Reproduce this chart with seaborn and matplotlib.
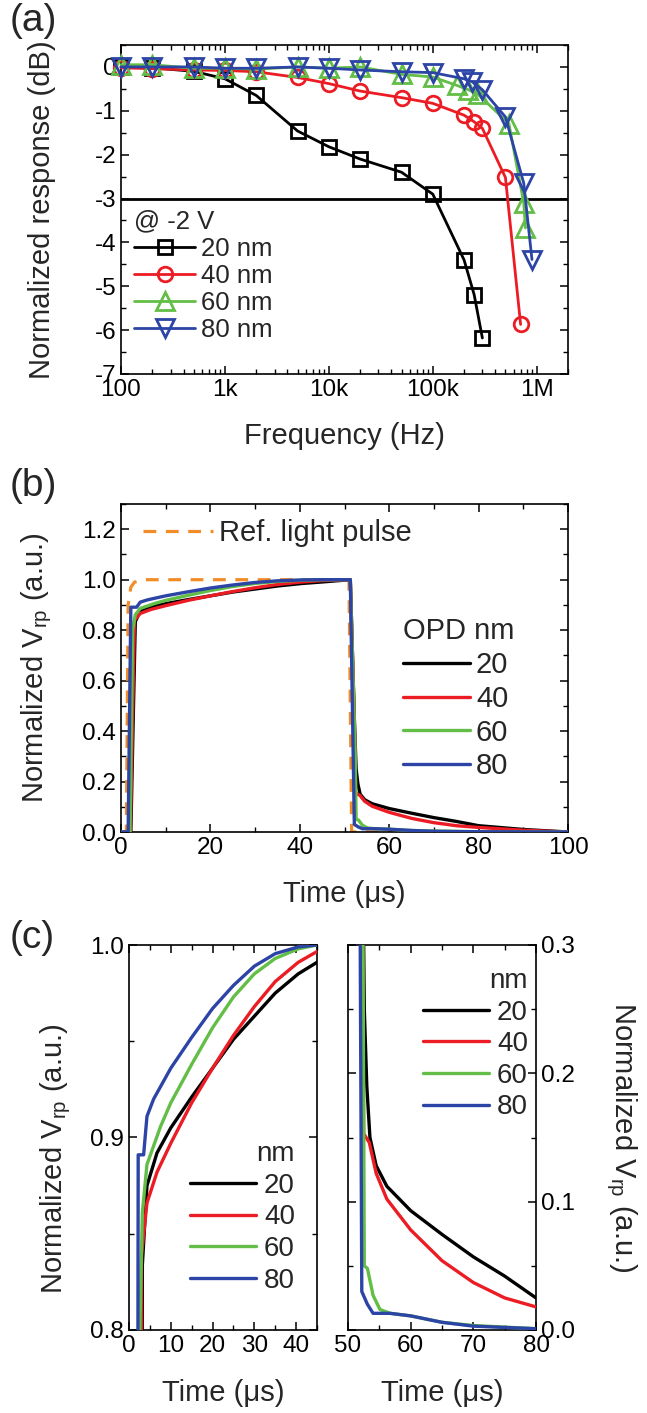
import numpy as np
import pandas as pd
import matplotlib
matplotlib.use("Agg")
import matplotlib.pyplot as plt
import seaborn as sns
from matplotlib.ticker import FixedLocator, MultipleLocator, LogLocator, NullFormatter
from matplotlib.lines import Line2D

# ---------------- data: panel (a) ----------------
freq_20 = [100, 200, 500, 1e3, 2e3, 5e3, 1e4, 2e4, 5e4, 1e5, 2e5, 2.5e5, 3e5]
resp_20 = [0.0, -0.02, -0.10, -0.27, -0.65, -1.46, -1.82, -2.10, -2.40, -2.90, -4.40, -5.19, -6.18]
freq_40 = [100, 200, 500, 1e3, 2e3, 5e3, 1e4, 2e4, 5e4, 1e5, 2e5, 2.5e5, 3e5, 5e5, 7e5]
resp_40 = [-0.02, -0.04, -0.07, -0.08, -0.11, -0.24, -0.38, -0.55, -0.70, -0.83, -1.10, -1.25, -1.40, -2.52, -5.87]
freq_60 = [100, 200, 500, 1e3, 2e3, 5e3, 1e4, 2e4, 5e4, 1e5, 1.7e5, 2.2e5, 2.7e5, 5.4e5, 7.5e5, 7.8e5]
resp_60 = [0.05, 0.05, -0.03, -0.03, -0.05, 0.0, -0.03, 0.0, -0.17, -0.23, -0.42, -0.52, -0.62, -1.29, -3.10, -3.67]
freq_80 = [100, 200, 500, 1e3, 2e3, 5e3, 1e4, 2e4, 5e4, 1e5, 2e5, 2.4e5, 3e5, 5e5, 7.5e5, 9e5]
resp_80 = [0.0, 0.0, 0.0, -0.03, -0.03, 0.0, -0.03, -0.07, -0.11, -0.13, -0.27, -0.34, -0.52, -1.14, -2.65, -4.39]
freq_ticks = [1e2, 1e3, 1e4, 1e5, 1e6]
freq_tick_labels = ["100", "1k", "10k", "100k", "1M"]

# ---------------- data: panels (b) and (c) ----------------
pulse_t = [0, 1.2, 1.6, 2.2, 3.0, 5.0, 51.0, 51.6, 100]
pulse_v = [0, 0, 0.90, 0.97, 0.99, 1.0, 1.0, 0.0, 0.0]

# rise part (0 .. 51.3 us)
rise_t_20 = [0, 2.2, 3.2, 4.3, 6.7, 10, 15, 20, 25, 30, 35, 40.5, 45, 51.3]
rise_v_20 = [0, 0, 0.834, 0.875, 0.892, 0.905, 0.921, 0.936, 0.951, 0.963, 0.975, 0.985, 0.991, 1.0]
rise_t_40 = [0, 2.1, 3.0, 4.3, 6.7, 10, 15, 20, 25, 30, 35, 40.5, 45, 51.3]
rise_v_40 = [0, 0, 0.839, 0.866, 0.882, 0.897, 0.918, 0.936, 0.953, 0.968, 0.981, 0.991, 0.9966, 1.0]
rise_t_60 = [0, 2.0, 2.6, 3.2, 4.3, 7.6, 10, 15, 20, 25, 30, 35, 40.5, 45, 51.3]
rise_v_60 = [0, 0, 0.80, 0.861, 0.886, 0.906, 0.918, 0.938, 0.957, 0.973, 0.985, 0.993, 0.998, 1.0, 1.0]
rise_t_80 = [0, 1.6, 2.2, 3.5, 4.3, 5.9, 10, 15, 20, 25, 30, 35, 40.5, 45, 51.3]
rise_v_80 = [0, 0, 0.891, 0.891, 0.911, 0.920, 0.936, 0.952, 0.967, 0.979, 0.989, 0.9955, 0.999, 1.0, 1.0]

# decay part (after 51.3 us)
decay_t_20 = [52.2, 52.6, 53.0, 53.5, 54.5, 56.2, 60, 65, 70, 75, 80, 90, 100]
decay_v_20 = [0.45, 0.25, 0.19, 0.15, 0.128, 0.112, 0.093, 0.0745, 0.057, 0.042, 0.025, 0.010, 0.0]
decay_t_40 = [52.2, 52.5, 53.4, 54.5, 56.2, 60, 65, 70, 75, 80, 90, 100]
decay_v_40 = [0.45, 0.153, 0.146, 0.122, 0.102, 0.078, 0.054, 0.037, 0.025, 0.018, 0.007, 0.0]
decay_t_60 = [52.4, 52.6, 53.1, 54.0, 55.1, 56.7, 60, 65, 70, 80, 100]
decay_v_60 = [0.30, 0.05, 0.048, 0.027, 0.016, 0.013, 0.011, 0.006, 0.0035, 0.001, 0.0]
decay_t_80 = [52.2, 53.1, 54.0, 56.7, 60, 65, 70, 80, 100]
decay_v_80 = [0.03, 0.02, 0.013, 0.013, 0.011, 0.006, 0.003, 0.001, 0.0]

thickness = ["20", "40", "60", "80"]

# ---------------- style ----------------
sns.set_style("ticks")
plt.rcParams["font.family"] = ["Liberation Sans", "DejaVu Sans"]
plt.rcParams.update({
    "axes.unicode_minus": False,
    "mathtext.fontset": "custom",
    "mathtext.rm": "Liberation Sans",
    "mathtext.it": "Liberation Sans:italic",
    "xtick.direction": "in", "ytick.direction": "in",
    "xtick.top": True, "ytick.right": True,
    "xtick.major.size": 6, "ytick.major.size": 6,
    "xtick.minor.size": 3.5, "ytick.minor.size": 3.5,
    "xtick.major.width": 1.1, "ytick.major.width": 1.1,
    "xtick.minor.width": 1.0, "ytick.minor.width": 1.0,
    "axes.linewidth": 1.2, "axes.edgecolor": "black",
    "xtick.color": "black", "ytick.color": "black",
    "xtick.labelsize": 17.5, "ytick.labelsize": 17.5,
    "axes.labelsize": 21,
})

colors = {"20": "#000000", "40": "#ec1c24", "60": "#62be46", "80": "#2c44a6"}
orange = "#f28c28"
LAB = 21
LW = 2.4

W, H = 647, 1413
fig = plt.figure(figsize=(W / 100, H / 100), dpi=100)


def add_ax(x0, y0, x1, y1):
    return fig.add_axes([x0 / W, 1 - y1 / H, (x1 - x0) / W, (y1 - y0) / H])


axA = add_ax(121, 45, 568, 374)
axB = add_ax(121, 504, 568, 832)
axC1 = add_ax(129, 945, 317, 1330)
axC2 = add_ax(348, 945, 536, 1330)

# ---------------- panel (a) ----------------
marker_cfg = {
    "20": dict(marker="s", markersize=10),
    "40": dict(marker="o", markersize=10.5),
    "60": dict(marker="^", markersize=13),
    "80": dict(marker="v", markersize=13),
}
series_a = {"20": (freq_20, resp_20), "40": (freq_40, resp_40),
            "60": (freq_60, resp_60), "80": (freq_80, resp_80)}
for k in thickness:
    f, r = series_a[k]
    c = colors[k]
    sns.lineplot(x=f, y=r, ax=axA, color=c, lw=2.0, estimator=None, sort=False,
                 markerfacecolor="none", markeredgecolor=c, markeredgewidth=2.0,
                 clip_on=False, zorder=3, **marker_cfg[k])
axA.axhline(-3, color="black", lw=2.0, zorder=2)
axA.set_xscale("log")
axA.set_xlim(100, 2e6)
axA.set_ylim(-7, 0.5)
axA.xaxis.set_major_locator(FixedLocator(freq_ticks))
axA.set_xticklabels(freq_tick_labels)
axA.xaxis.set_minor_locator(LogLocator(base=10, subs=np.arange(2, 10)))
axA.xaxis.set_minor_formatter(NullFormatter())
axA.yaxis.set_major_locator(MultipleLocator(1))
axA.yaxis.set_minor_locator(MultipleLocator(0.5))
axA.set_xlabel("Frequency (Hz)", fontsize=LAB, labelpad=15)
axA.set_ylabel("Normalized response (dB)", fontsize=LAB)
axA.yaxis.set_label_coords(-0.145, 0.5)

hA = [Line2D([], [], color=colors[k], lw=2.0, markerfacecolor="none",
             markeredgecolor=colors[k], markeredgewidth=2.0, **marker_cfg[k])
      for k in thickness]
legA = axA.legend(hA, [f"{k} nm" for k in thickness], title="@ -2 V",
                  loc="upper left", bbox_to_anchor=(0.03, 0.50), frameon=False,
                  fontsize=18.5, title_fontsize=18.5, alignment="left",
                  handlelength=2.35, handletextpad=0.25, labelspacing=0.12,
                  borderpad=0, borderaxespad=0, numpoints=1)

# ---------------- panel (b) ----------------
rise = {"20": (rise_t_20, rise_v_20), "40": (rise_t_40, rise_v_40),
        "60": (rise_t_60, rise_v_60), "80": (rise_t_80, rise_v_80)}
decay = {"20": (decay_t_20, decay_v_20), "40": (decay_t_40, decay_v_40),
         "60": (decay_t_60, decay_v_60), "80": (decay_t_80, decay_v_80)}

sns.lineplot(x=pulse_t, y=pulse_v, ax=axB, color=orange, lw=2.3,
             estimator=None, sort=False, linestyle=(0, (4.0, 3.0)), zorder=2)
for k in thickness:
    t = list(rise[k][0]) + list(decay[k][0])
    v = list(rise[k][1]) + list(decay[k][1])
    sns.lineplot(x=t, y=v, ax=axB, color=colors[k], lw=LW,
                 estimator=None, sort=False, zorder=3)
axB.set_xlim(0, 100)
axB.set_ylim(0, 1.3)
axB.xaxis.set_major_locator(MultipleLocator(20))
axB.xaxis.set_minor_locator(MultipleLocator(10))
axB.yaxis.set_major_locator(MultipleLocator(0.2))
axB.yaxis.set_minor_locator(MultipleLocator(0.1))
axB.yaxis.set_major_formatter(matplotlib.ticker.FormatStrFormatter("%.1f"))
axB.set_xlabel("Time (μs)", fontsize=LAB, labelpad=15)
axB.set_ylabel(r"Normalized V$_{\mathrm{rp}}$ (a.u.)", fontsize=LAB)
axB.yaxis.set_label_coords(-0.15, 0.5)

leg_ref = axB.legend([Line2D([], [], color=orange, lw=2.3, linestyle=(0, (4.0, 3.0)))],
                     ["Ref. light pulse"], loc="upper left", bbox_to_anchor=(0.049, 0.955),
                     frameon=False, fontsize=21, handlelength=2.4, handletextpad=0.2,
                     borderpad=0, borderaxespad=0)
axB.add_artist(leg_ref)
hB = [Line2D([], [], color=colors[k], lw=LW) for k in thickness]
axB.legend(hB, thickness, title="OPD nm", loc="upper left", bbox_to_anchor=(0.631, 0.655),
           frameon=False, fontsize=21, title_fontsize=21, alignment="left",
           handlelength=2.3, handletextpad=0.2, labelspacing=0.2,
           borderpad=0, borderaxespad=0)

# ---------------- panel (c) left ----------------
for k in thickness:
    t = list(rise[k][0]) + list(decay[k][0])
    v = list(rise[k][1]) + list(decay[k][1])
    sns.lineplot(x=t, y=v, ax=axC1, color=colors[k], lw=LW,
                 estimator=None, sort=False, zorder=3)
axC1.set_xlim(0, 45)
axC1.set_ylim(0.8, 1.0)
axC1.xaxis.set_major_locator(MultipleLocator(10))
axC1.xaxis.set_minor_locator(MultipleLocator(5))
axC1.yaxis.set_major_locator(MultipleLocator(0.1))
axC1.yaxis.set_minor_locator(MultipleLocator(0.05))
axC1.yaxis.set_major_formatter(matplotlib.ticker.FormatStrFormatter("%.1f"))
axC1.set_xlabel("Time (μs)", fontsize=LAB, labelpad=16)
axC1.set_ylabel(r"Normalized V$_{\mathrm{rp}}$ (a.u.)", fontsize=LAB)
axC1.yaxis.set_label_coords(-0.30, 0.445)
hC = [Line2D([], [], color=colors[k], lw=LW) for k in thickness]
axC1.legend(hC, thickness, title="nm", loc="upper right", bbox_to_anchor=(0.883, 0.49),
            frameon=False, fontsize=20, title_fontsize=20, alignment="right",
            handlelength=2.37, handletextpad=0.3, labelspacing=0.2,
            borderpad=0, borderaxespad=0)

# ---------------- panel (c) right ----------------
for k in thickness:
    t = list(rise[k][0]) + list(decay[k][0])
    v = list(rise[k][1]) + list(decay[k][1])
    sns.lineplot(x=t, y=v, ax=axC2, color=colors[k], lw=LW,
                 estimator=None, sort=False, zorder=3)
axC2.set_xlim(50, 80)
axC2.set_ylim(0, 0.3)
axC2.xaxis.set_major_locator(MultipleLocator(10))
axC2.xaxis.set_minor_locator(MultipleLocator(5))
axC2.yaxis.set_major_locator(MultipleLocator(0.1))
axC2.yaxis.set_minor_locator(MultipleLocator(0.05))
axC2.yaxis.set_major_formatter(matplotlib.ticker.FormatStrFormatter("%.1f"))
axC2.tick_params(axis="y", which="both", left=True, right=True,
                 labelleft=False, labelright=True)
axC2.set_xlabel("Time (μs)", fontsize=LAB, labelpad=16)
axC2.yaxis.set_label_position("right")
axC2.set_ylabel(r"Normalized V$_{\mathrm{rp}}$ (a.u.)", fontsize=LAB,
                rotation=270, labelpad=46)
axC2.legend(hC, thickness, title="nm", loc="upper right", bbox_to_anchor=(0.957, 0.94),
            frameon=False, fontsize=20, title_fontsize=20, alignment="right",
            handlelength=2.37, handletextpad=0.3, labelspacing=0.2,
            borderpad=0, borderaxespad=0)

for ax in (axA, axB, axC1, axC2):
    ax.tick_params(which="both", top=True, right=True)
    for s in ax.spines.values():
        s.set_visible(True)
        s.set_color("black")
        s.set_linewidth(1.2)

# panel letters
fig.text(10 / W, 1 - 3 / H, "(a)", fontsize=28, va="top", ha="left")
fig.text(10 / W, 1 - 468 / H, "(b)", fontsize=28, va="top", ha="left")
fig.text(10 / W, 1 - 920 / H, "(c)", fontsize=28, va="top", ha="left")

fig.savefig("out.png", dpi=100)
